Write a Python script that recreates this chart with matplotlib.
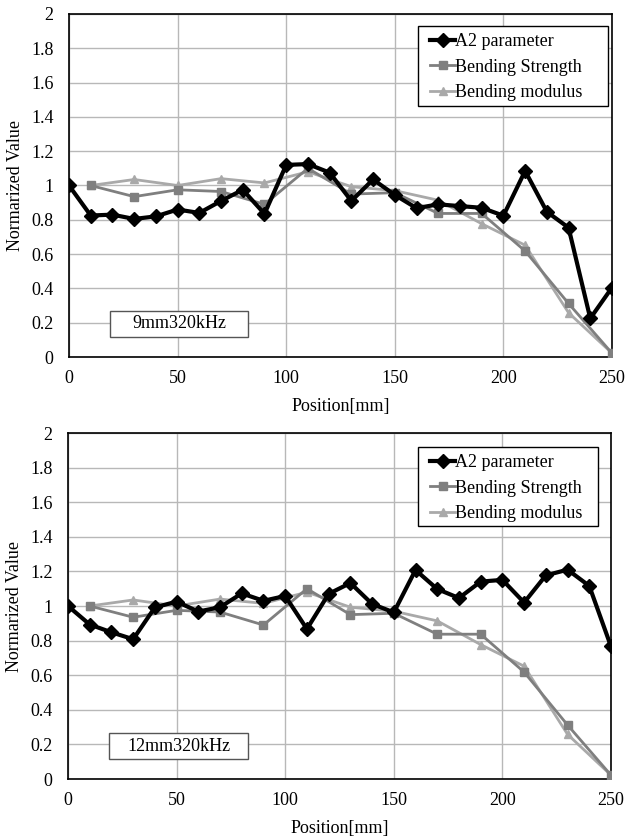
import matplotlib.pyplot as plt
from matplotlib.patches import Rectangle
import numpy as np

plt.rcParams['font.family'] = ['Liberation Serif', 'DejaVu Serif']

# positions [mm]
pos_a2 = np.arange(0, 251, 10)
pos_bend = np.arange(10, 251, 20)

a2_9mm = [1.0, 0.825, 0.83, 0.805, 0.82, 0.86, 0.84, 0.91, 0.975, 0.835,
          1.12, 1.125, 1.075, 0.91, 1.035, 0.945, 0.868, 0.89, 0.88, 0.87,
          0.824, 1.085, 0.847, 0.754, 0.225, 0.405]
a2_12mm = [1.0, 0.893, 0.848, 0.808, 0.992, 1.025, 0.968, 0.993, 1.073, 1.03,
           1.058, 0.867, 1.07, 1.133, 1.012, 0.963, 1.208, 1.098, 1.046, 1.141,
           1.151, 1.02, 1.177, 1.21, 1.116, 0.766]
bend_strength = [1.0, 0.935, 0.975, 0.965, 0.89, 1.1, 0.95, 0.958, 0.837,
                 0.837, 0.618, 0.312, 0.022]
bend_modulus = [1.0, 1.035, 1.0, 1.04, 1.015, 1.08, 0.993, 0.97, 0.914,
                0.777, 0.652, 0.258, 0.022]

labels = ['9mm320kHz', '12mm320kHz']
a2_sets = [a2_9mm, a2_12mm]

W, H = 626, 838
fig = plt.figure(figsize=(W / 100, H / 100), dpi=100)
fs = 13

# pixel boxes: left, top, right, bottom
boxes = [(69, 14, 612, 357), (68, 433, 611, 779)]
leg_box = [(418, 26, 608, 106), (418, 447, 598, 526)]
lbl_box = [(110, 311, 248, 337), (109, 733, 248, 759)]


def frame(ax, to_ax, px_box, ec, z):
    bx0, by0, bx1, by1 = px_box
    x0, y0 = to_ax(bx0, by1)
    x1, y1 = to_ax(bx1, by0)
    ax.add_patch(Rectangle((x0, y0), x1 - x0, y1 - y0, transform=ax.transAxes,
                           fc='white', ec=ec, lw=1, zorder=z, clip_on=False))
    return x0, y0, x1, y1


for i in range(2):
    l, t, r, b = boxes[i]
    ax = fig.add_axes([l / W, 1 - b / H, (r - l) / W, (b - t) / H])

    def to_ax(px, py):
        return (px - l) / (r - l), (b - py) / (b - t)

    ax.plot(pos_a2, a2_sets[i], color='black', lw=3, marker='D', ms=7,
            label='A2 parameter', zorder=5)
    ax.plot(pos_bend, bend_strength, color='#7f7f7f', lw=2, marker='s', ms=6,
            label='Bending Strength', zorder=4)
    ax.plot(pos_bend, bend_modulus, color='#a9a9a9', lw=2, marker='^', ms=6,
            label='Bending modulus', zorder=3)
    ax.set_xlim(0, 250)
    ax.set_ylim(0, 2)
    ax.set_xticks(np.arange(0, 251, 50))
    ax.set_yticks(np.arange(0, 2.01, 0.2))
    ax.set_yticklabels(['0', '0.2', '0.4', '0.6', '0.8', '1', '1.2', '1.4',
                        '1.6', '1.8', '2'])
    ax.grid(True, color='#b8b8b8', lw=1)
    ax.set_axisbelow(True)
    ax.tick_params(length=0, labelsize=fs)
    ax.tick_params(axis='x', pad=9)
    ax.tick_params(axis='y', pad=11)
    for s in ax.spines.values():
        s.set_color('black')
        s.set_linewidth(1.2)
    ax.set_xlabel('Position[mm]', fontsize=fs, labelpad=8)
    ax.set_ylabel('Normarized Value', fontsize=fs, labelpad=5)

    # legend: own frame, entries without matplotlib's frame
    frame(ax, to_ax, leg_box[i], 'black', 8)
    lx, ly = to_ax(leg_box[i][0] + 12, leg_box[i][1] + 7)
    leg = ax.legend(loc='upper left', bbox_to_anchor=(lx, ly),
                    fontsize=fs, frameon=False, handlelength=1.4,
                    handletextpad=0.0, borderpad=0, labelspacing=0.48,
                    borderaxespad=0)
    leg.set_zorder(9)

    x0, y0, x1, y1 = frame(ax, to_ax, lbl_box[i], '#555555', 6)
    ax.text((x0 + x1) / 2, (y0 + y1) / 2, labels[i], transform=ax.transAxes,
            ha='center', va='center', fontsize=fs, zorder=7)

fig.savefig('out.png', dpi=100)
